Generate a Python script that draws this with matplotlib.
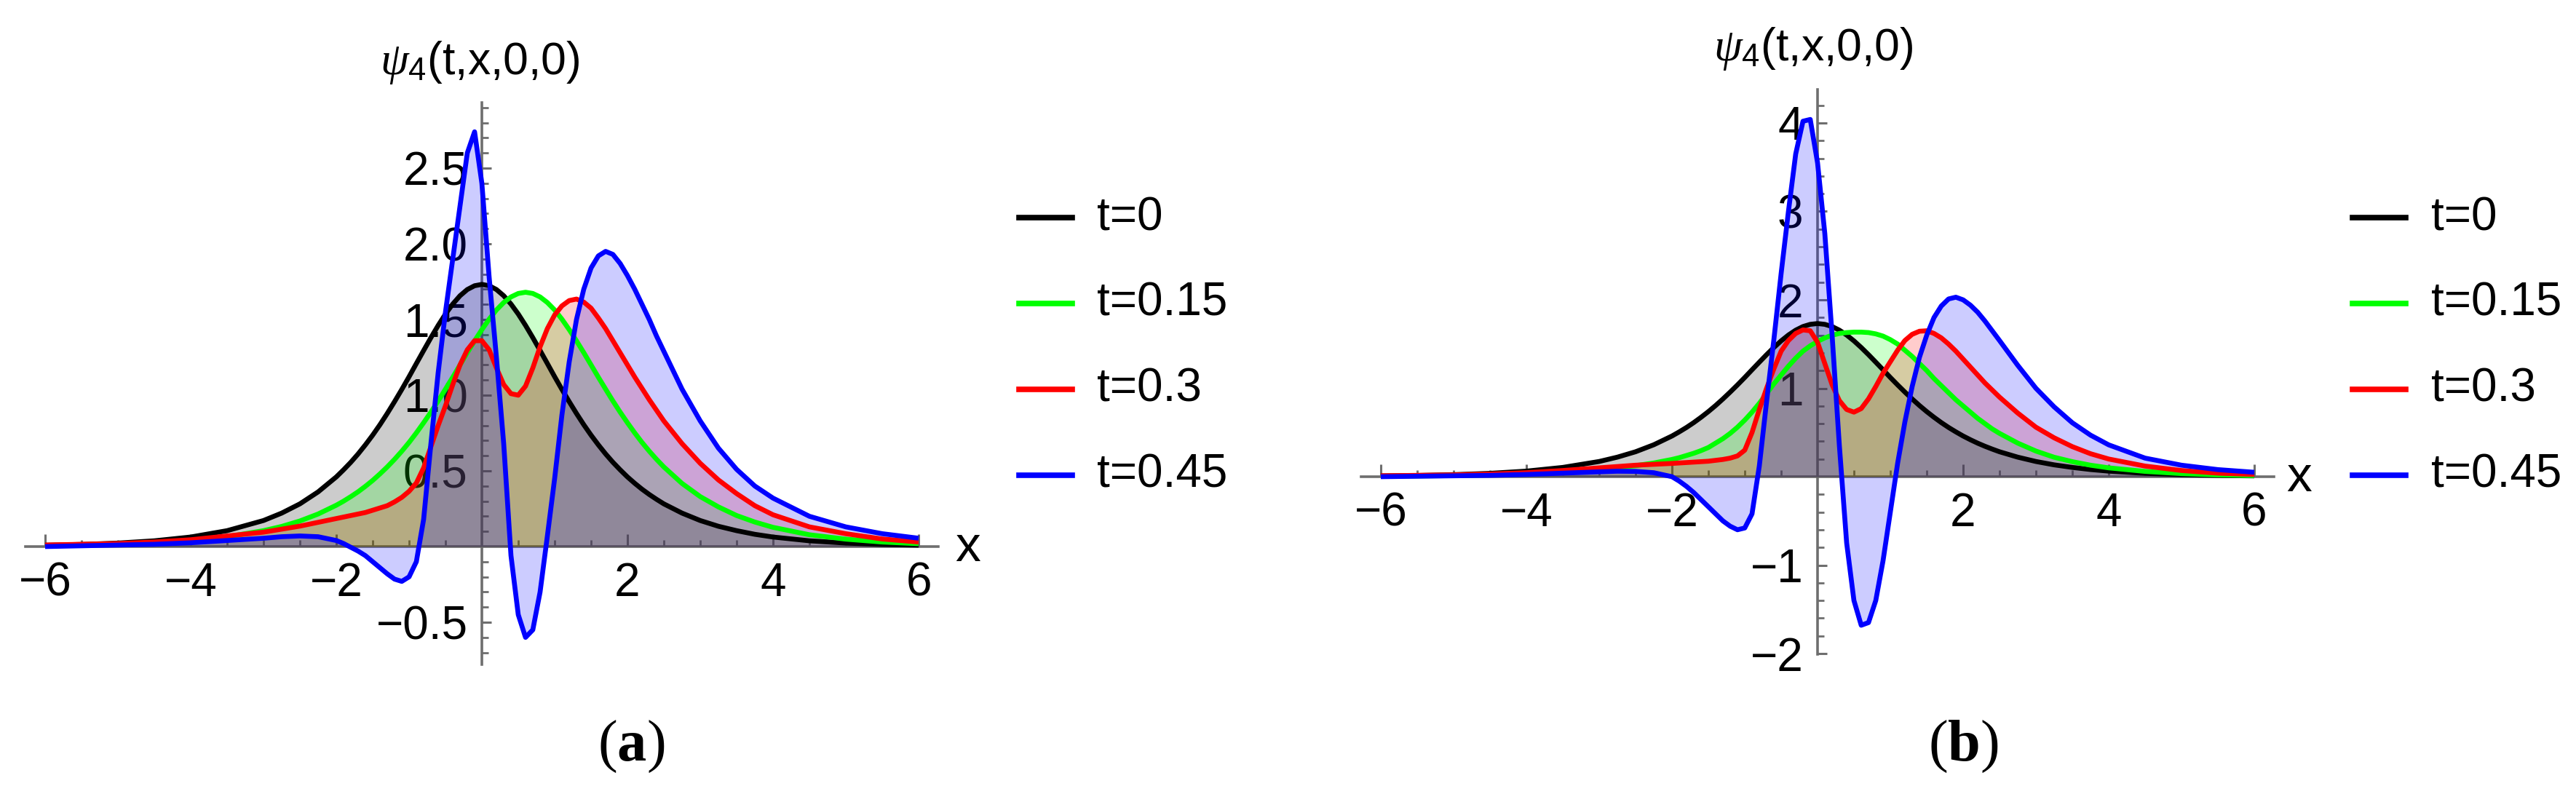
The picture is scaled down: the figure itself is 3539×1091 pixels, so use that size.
import numpy as np
import matplotlib
matplotlib.use("Agg")
import matplotlib.pyplot as plt
from matplotlib.lines import Line2D
from matplotlib.ticker import FixedLocator, FixedFormatter

plt.rcParams['font.family'] = ['Liberation Sans', 'DejaVu Sans']
plt.rcParams['mathtext.fontset'] = 'custom'
plt.rcParams['mathtext.rm'] = 'Liberation Sans'
plt.rcParams['mathtext.it'] = 'Liberation Serif:italic'
plt.rcParams['mathtext.bf'] = 'Liberation Serif:bold'

# ---------------- data ----------------
x_vals = [-6, -5.5, -5, -4.5, -4, -3.5, -3, -2.75, -2.5, -2.25,
          -2.0, -1.9, -1.8, -1.7, -1.6, -1.5, -1.4, -1.3, -1.2, -1.1,
          -1.0, -0.9, -0.8, -0.7, -0.6, -0.5, -0.4, -0.3, -0.2, -0.1,
          0.0, 0.1, 0.2, 0.3, 0.4, 0.5, 0.6, 0.7, 0.8, 0.9,
          1.0, 1.1, 1.2, 1.3, 1.4, 1.5, 1.6, 1.7, 1.8, 1.9,
          2.0, 2.1, 2.2, 2.3, 2.4, 2.5, 2.75, 3.0, 3.25, 3.5,
          3.75, 4.0, 4.5, 5.0, 5.5, 6.0]

series_labels = ['t=0', 't=0.15', 't=0.3', 't=0.45']
series_colors = ['#000000', '#00ff00', '#ff0000', '#0000ff']

# panel (a)
black_a = [0.009, 0.014, 0.023, 0.038, 0.063, 0.105, 0.172, 0.221, 0.282, 0.361,
           0.460, 0.507, 0.557, 0.612, 0.672, 0.736, 0.805, 0.879, 0.957, 1.038,
           1.122, 1.209, 1.295, 1.380, 1.461, 1.536, 1.602, 1.657, 1.698, 1.723,
           1.732, 1.723, 1.698, 1.657, 1.602, 1.536, 1.461, 1.380, 1.295, 1.209,
           1.122, 1.038, 0.957, 0.879, 0.805, 0.736, 0.672, 0.612, 0.557, 0.507,
           0.460, 0.418, 0.379, 0.344, 0.312, 0.282, 0.221, 0.172, 0.134, 0.105,
           0.081, 0.063, 0.038, 0.023, 0.014, 0.009]
green_a = [0.006, 0.0095, 0.015, 0.025, 0.040, 0.065, 0.105, 0.133, 0.169, 0.215,
           0.273, 0.300, 0.330, 0.362, 0.398, 0.437, 0.480, 0.526, 0.576, 0.630,
           0.688, 0.751, 0.818, 0.888, 0.962, 1.040, 1.119, 1.200, 1.281, 1.359,
           1.433, 1.502, 1.563, 1.612, 1.649, 1.672, 1.680, 1.672, 1.649, 1.612,
           1.563, 1.502, 1.433, 1.359, 1.281, 1.200, 1.119, 1.040, 0.962, 0.888,
           0.818, 0.751, 0.688, 0.630, 0.576, 0.526, 0.417, 0.330, 0.262, 0.205,
           0.162, 0.127, 0.078, 0.049, 0.030, 0.019]
red_a = [0.01, 0.015, 0.02, 0.03, 0.045, 0.07, 0.095, 0.115, 0.135, 0.16,
         0.185, 0.195, 0.205, 0.215, 0.225, 0.24, 0.255, 0.27, 0.295, 0.325,
         0.365, 0.42, 0.52, 0.66, 0.80, 0.93, 1.07, 1.20, 1.30, 1.36,
         1.36, 1.30, 1.18, 1.07, 1.01, 1.00, 1.06, 1.18, 1.32, 1.44,
         1.53, 1.59, 1.625, 1.635, 1.615, 1.575, 1.51, 1.44, 1.36, 1.28,
         1.20, 1.12, 1.045, 0.97, 0.90, 0.83, 0.68, 0.55, 0.44, 0.35,
         0.27, 0.21, 0.13, 0.085, 0.05, 0.03]
blue_a = [0.0, 0.005, 0.01, 0.015, 0.025, 0.04, 0.055, 0.065, 0.07, 0.065,
          0.04, 0.02, -0.005, -0.03, -0.06, -0.10, -0.14, -0.18, -0.215, -0.23,
          -0.20, -0.10, 0.18, 0.68, 1.15, 1.55, 1.90, 2.25, 2.60, 2.74,
          2.40, 1.78, 1.25, 0.68, -0.06, -0.45, -0.60, -0.55, -0.30, 0.07,
          0.45, 0.87, 1.22, 1.50, 1.70, 1.84, 1.92, 1.95, 1.93, 1.87,
          1.79, 1.70, 1.60, 1.50, 1.39, 1.29, 1.04, 0.83, 0.65, 0.51,
          0.40, 0.32, 0.20, 0.13, 0.085, 0.055]

# panel (b)
black_b = list(black_a)
green_b = [0.005, 0.008, 0.012, 0.02, 0.03, 0.05, 0.08, 0.10, 0.125, 0.155,
           0.195, 0.215, 0.24, 0.265, 0.295, 0.33, 0.38, 0.43, 0.49, 0.56,
           0.64, 0.73, 0.83, 0.94, 1.05, 1.15, 1.25, 1.34, 1.42, 1.48,
           1.53, 1.57, 1.60, 1.62, 1.63, 1.635, 1.635, 1.63, 1.615, 1.59,
           1.55, 1.50, 1.43, 1.36, 1.28, 1.20, 1.11, 1.03, 0.95, 0.87,
           0.80, 0.73, 0.66, 0.60, 0.54, 0.49, 0.38, 0.29, 0.22, 0.17,
           0.13, 0.10, 0.06, 0.035, 0.02, 0.012]
red_b = [0.01, 0.015, 0.02, 0.03, 0.045, 0.07, 0.10, 0.115, 0.13, 0.14,
         0.15, 0.155, 0.16, 0.165, 0.17, 0.175, 0.185, 0.195, 0.21, 0.235,
         0.30, 0.50, 0.76, 1.00, 1.22, 1.42, 1.54, 1.62, 1.66, 1.65,
         1.52, 1.28, 1.04, 0.86, 0.76, 0.73, 0.77, 0.88, 1.02, 1.17,
         1.30, 1.43, 1.54, 1.61, 1.645, 1.65, 1.62, 1.57, 1.50, 1.42,
         1.33, 1.24, 1.15, 1.06, 0.98, 0.90, 0.72, 0.56, 0.44, 0.34,
         0.26, 0.20, 0.12, 0.07, 0.04, 0.025]
blue_b = [0.0, 0.005, 0.01, 0.015, 0.025, 0.04, 0.055, 0.062, 0.06, 0.045,
          0.0, -0.05, -0.11, -0.18, -0.26, -0.34, -0.42, -0.50, -0.56, -0.60,
          -0.58, -0.42, 0.12, 0.85, 1.55, 2.30, 3.00, 3.65, 4.02, 4.04,
          3.55, 2.75, 1.60, 0.35, -0.75, -1.40, -1.68, -1.65, -1.40, -0.95,
          -0.40, 0.15, 0.62, 1.02, 1.35, 1.60, 1.80, 1.93, 2.01, 2.03,
          2.00, 1.94, 1.86, 1.76, 1.65, 1.54, 1.26, 1.00, 0.79, 0.61,
          0.47, 0.36, 0.21, 0.13, 0.08, 0.05]

x_major = [-6, -4, -2, 2, 4, 6]
x_major_labels = ['\u22126', '\u22124', '\u22122', '2', '4', '6']
y_major_a = [-0.5, 0.5, 1.0, 1.5, 2.0, 2.5]
y_major_a_labels = ['\u22120.5', '0.5', '1.0', '1.5', '2.0', '2.5']
y_major_b = [-2, -1, 1, 2, 3, 4]
y_major_b_labels = ['\u22122', '\u22121', '1', '2', '3', '4']

# ---------------- layout ----------------
W, H = 3539, 1091
fig = plt.figure(figsize=(W / 100, H / 100), dpi=100)
fig.patch.set_facecolor('white')

AX_GRAY = '#6e6e6e'
XHALF = 6.27


def fx(p):
    return p / W


def fy(p):
    return 1 - p / H


panels = [
    dict(x0=662, y0=751, ux=100, uy=208, ylo=-0.779, yhi=2.933,
         ys=[black_a, green_a, red_a, blue_a],
         yt=y_major_a, ytl=y_major_a_labels, ystep=0.1,
         label_pos=(659, 86), xlab_pos=(1330, 753),
         leg_x=(1400, 1473, 1507), cap_pos=(867, 1026), cap='a'),
    dict(x0=2497, y0=655, ux=100, uy=121.5, ylo=-2.006, yhi=4.379,
         ys=[black_b, green_b, red_b, blue_b],
         yt=y_major_b, ytl=y_major_b_labels, ystep=0.2,
         label_pos=(2491, 67), xlab_pos=(3159, 657),
         leg_x=(3232, 3305, 3340), cap_pos=(2697, 1026), cap='b'),
]

leg_y = [299, 417, 535, 653]

for P in panels:
    left = P['x0'] - XHALF * P['ux']
    width = 2 * XHALF * P['ux']
    top = P['y0'] - P['yhi'] * P['uy']
    bottom = P['y0'] - P['ylo'] * P['uy']
    ax = fig.add_axes([fx(left), fy(bottom), width / W, (bottom - top) / H])
    ax.set_facecolor('none')
    ax.set_xlim(-XHALF, XHALF)
    ax.set_ylim(P['ylo'], P['yhi'])

    for ys, col in zip(P['ys'], series_colors):
        ax.fill_between(x_vals, ys, 0, color=col, alpha=0.2, lw=0, zorder=3)
    for ys, col in zip(P['ys'], series_colors):
        ax.plot(x_vals, ys, color=col, lw=4.8, zorder=4,
                solid_joinstyle='round', solid_capstyle='butt')

    for s in ['top', 'right']:
        ax.spines[s].set_visible(False)
    for s in ['left', 'bottom']:
        ax.spines[s].set_position(('data', 0))
        ax.spines[s].set_color(AX_GRAY)
        ax.spines[s].set_linewidth(2.6)

    ax.xaxis.set_major_locator(FixedLocator(x_major))
    ax.xaxis.set_major_formatter(FixedFormatter(x_major_labels))
    xm = [v for v in np.arange(-6, 6.01, 0.5) if abs(v) > 1e-9 and abs(v % 2) > 1e-9]
    ax.xaxis.set_minor_locator(FixedLocator(xm))

    ax.yaxis.set_major_locator(FixedLocator(P['yt']))
    ax.yaxis.set_major_formatter(FixedFormatter(P['ytl']))
    st = P['ystep']
    ym = []
    k0 = int(np.ceil(P['ylo'] / st))
    k1 = int(np.floor(P['yhi'] / st))
    for k in range(k0, k1 + 1):
        v = round(k * st, 6)
        if abs(v) < 1e-9 or any(abs(v - m) < 1e-6 for m in P['yt']):
            continue
        ym.append(v)
    ax.yaxis.set_minor_locator(FixedLocator(ym))

    ax.tick_params(axis='x', which='major', direction='in', length=12, width=2.2,
                   color=AX_GRAY, pad=15, labelsize=46, labelcolor='black')
    ax.tick_params(axis='x', which='minor', direction='in', length=6.5, width=2.0,
                   color=AX_GRAY)
    ax.tick_params(axis='y', which='major', direction='in', length=9.5, width=2.2,
                   color=AX_GRAY, pad=14, labelsize=46, labelcolor='black')
    ax.tick_params(axis='y', which='minor', direction='in', length=6.5, width=2.0,
                   color=AX_GRAY)

    # axis labels
    lx, ly = P['label_pos']
    fig.text(fx(lx), fy(ly), r'$\psi_{\mathrm{4}}$(t,x,0,0)', fontsize=45,
             ha='center', va='center')
    xx, xy = P['xlab_pos']
    fig.text(fx(xx), fy(xy), 'x', fontsize=50, ha='center', va='center')

    # legend
    l0, l1, tx = P['leg_x']
    for lab, col, yy in zip(series_labels, series_colors, leg_y):
        fig.add_artist(Line2D([fx(l0), fx(l1)], [fy(yy), fy(yy)], color=col,
                              lw=5.5, transform=fig.transFigure))
        fig.text(fx(tx), fy(yy), lab, fontsize=46, ha='left', va='center')

    cx, cy = P['cap_pos']
    fig.text(fx(cx), fy(cy), r'($\mathbf{' + P['cap'] + r'}$)',
             family='Liberation Serif', fontsize=58, ha='center', va='center')

fig.savefig('out.png', dpi=100, facecolor='white')
